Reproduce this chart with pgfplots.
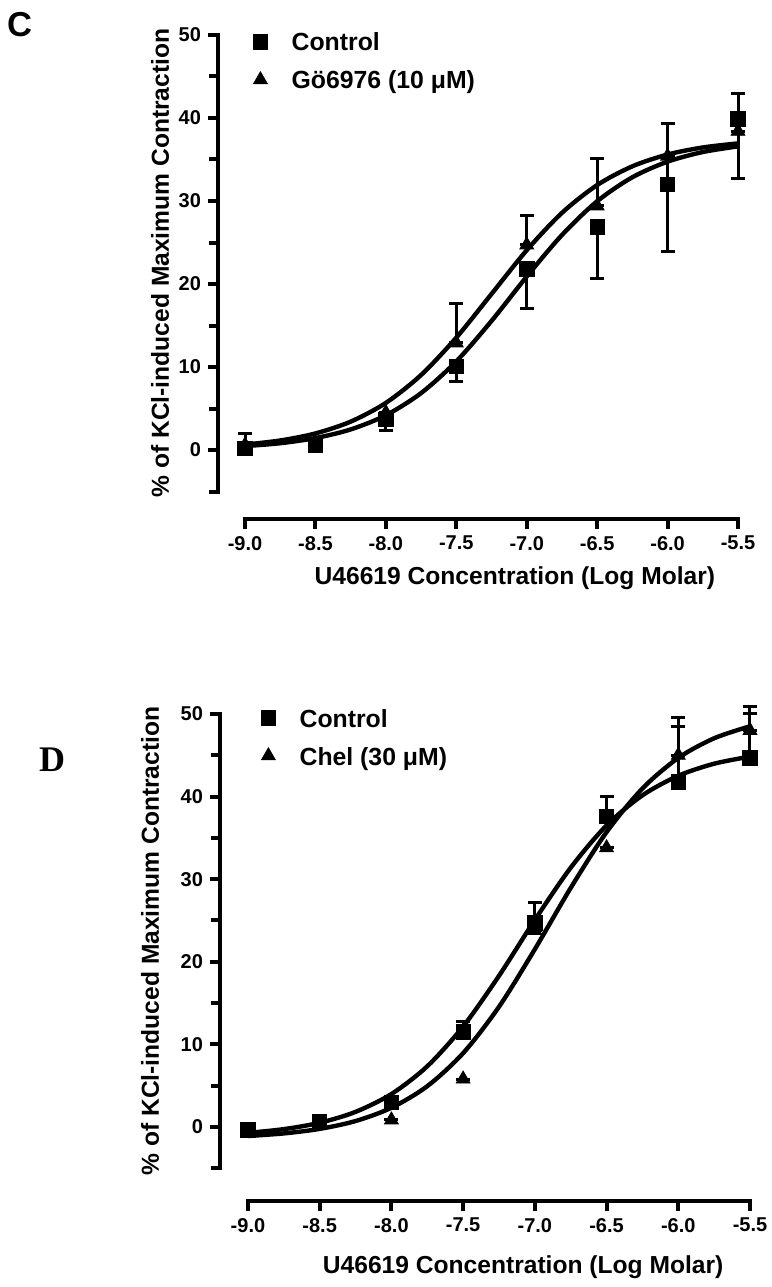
\documentclass[border=0pt]{standalone}
\usepackage{fontspec}
\setmainfont{Liberation Sans}
\newfontfamily\serifb{Liberation Serif}
\newfontfamily\sansb{Liberation Sans}
\usepackage{pgfplots}
\pgfplotsset{compat=1.18}
\usepackage{pgfplotstable}

% Panel C
\pgfplotstableread{
x y ep em
-9.0 0.2 0 0
-8.5 0.55 0 0
-8.0 3.7 0 1.4
-7.5 10.1 0 1.9
-7.0 21.8 0 4.7
-6.5 26.9 0 6.2
-6.0 32.0 7.3 8.1
-5.5 39.9 3.1 0
}\cctrl
\pgfplotstableread{
x y ep em
-9.0 0.6 1.4 0
-8.5 0.9 0 0
-8.0 4.5 0 0
-7.5 12.9 4.8 0
-7.0 24.7 3.6 0
-6.5 29.4 5.7 0
-6.0 35.4 0 0
-5.5 38.4 0 5.7
}\cgo
% Panel D
\pgfplotstableread{
x y ep em
-9.0 -0.35 0 0
-8.5 0.6 0 0
-8.0 3.0 0 0
-7.5 11.5 1.3 0
-7.0 24.7 2.5 0
-6.5 37.6 2.4 0
-6.0 41.8 6.7 0
-5.5 44.7 5.3 0
}\dctrl
\pgfplotstableread{
x y ep em
-9.0 -0.6 0 0
-8.5 0.3 0 0
-8.0 0.85 0 0
-7.5 5.8 0 0
-7.0 23.8 0 0
-6.5 33.8 0 0
-6.0 45.0 4.6 0
-5.5 48.0 2.9 0
}\dchel

\pgfplotsset{
  myax/.style={
    scale only axis, clip=false,
    axis x line*=bottom, axis y line*=left,
    axis line style={draw=none},
    xtick={-9,-8.5,-8,-7.5,-7,-6.5,-6,-5.5},
    xticklabels={-9.0,-8.5,-8.0,-7.5,-7.0,-6.5,-6.0,-5.5},
    ytick={0,10,20,30,40,50}, yticklabels={0,10,20,30,40,50},
    minor ytick={-5,5,15,25,35,45},
    tick align=outside,
    major tick length=5pt, minor tick length=4.5pt,
    every tick/.style={line width=2pt, black},
    every minor tick/.style={line width=2pt, black},
    tick label style={font=\bfseries\fontsize{10}{12}\selectfont, black},
    label style={font=\bfseries\fontsize{12.3}{14}\selectfont},
    xmax=-5.5, ymax=50,
    legend cell align=left,
    legend image code/.code={\draw[##1] plot[only marks] coordinates {(0pt,1.6pt)};},
    legend style={draw=none, fill=none, inner sep=0pt,
      font=\bfseries\fontsize{12.4}{14}\selectfont,
      nodes={text height=9pt, text depth=3pt, inner sep=0pt},
      row sep=7pt,
      /tikz/every odd column/.append style={column sep=12pt}},
  },
  sq/.style={only marks, mark=square*, mark size=3.6pt, black,
    error bars/.cd, y dir=both, y explicit,
    error bar style={line width=1.5pt, black},
    error mark options={rotate=90, mark size=3.5pt, line width=1.5pt, black}},
  tri/.style={only marks, mark=triangle*, mark size=4pt, black,
    error bars/.cd, y dir=both, y explicit,
    error bar style={line width=1.5pt, black},
    error mark options={rotate=90, mark size=3.5pt, line width=1.5pt, black}},
  fit/.style={black, line width=2.2pt, smooth, no marks, forget plot},
}

\begin{document}
\begin{tikzpicture}
\path[use as bounding box] (0,0) rectangle (386pt,643.5pt);

% ---------- Panel C ----------
\begin{axis}[myax,
  at={(109pt,384pt)}, anchor=south west,
  width=260pt, height=242pt,
  xmin=-9.192, ymin=-8.31,
  xlabel={U46619 Concentration (Log Molar)},
  ylabel={\% of KCl-induced Maximum Contraction},
  xlabel style={at={(axis description cs:0.571,-0.122)}, anchor=center},
  ylabel style={at={(axis description cs:-0.1115,0.529)}, anchor=center},
  legend style={at={(rel axis cs:0.067,1.005)}, anchor=north west},
]
\draw[line width=2pt, line cap=rect] (axis cs:-9,-8.31) -- (axis cs:-5.5,-8.31);
\draw[line width=2pt, line cap=rect] (axis cs:-9.192,-5) -- (axis cs:-9.192,50);
\addplot[sq] table[x=x, y=y, y error plus=ep, y error minus=em] {\cctrl};
\addplot[tri] table[x=x, y=y, y error plus=ep, y error minus=em] {\cgo};
\addplot[fit] coordinates {
(-9.0,0.47) (-8.75,0.82) (-8.5,1.44) (-8.25,2.48) (-8.0,4.19) (-7.75,6.86)
(-7.5,10.68) (-7.25,15.55) (-7.0,20.9) (-6.75,25.9) (-6.5,29.97) (-6.25,32.86)
(-6.0,34.74) (-5.75,35.9) (-5.5,36.58)};
\addplot[fit] coordinates {
(-9.0,0.66) (-8.75,1.15) (-8.5,2.0) (-8.25,3.42) (-8.0,5.68) (-7.75,9.04)
(-7.5,13.54) (-7.25,18.8) (-7.0,24.07) (-6.75,28.57) (-6.5,31.92) (-6.25,34.18)
(-6.0,35.6) (-5.75,36.45) (-5.5,36.94)};
\legend{Control, Gö6976 (10 μM)}
\end{axis}

% ---------- Panel D ----------
\begin{axis}[myax,
  at={(110pt,43pt)}, anchor=south west,
  width=265pt, height=243.5pt,
  xmin=-9.195, ymin=-8.96,
  xlabel={U46619 Concentration (Log Molar)},
  ylabel={\% of KCl-induced Maximum Contraction},
  xlabel style={at={(axis description cs:0.572,-0.136)}, anchor=center},
  ylabel style={at={(axis description cs:-0.132,0.534)}, anchor=center},
  legend style={at={(rel axis cs:0.077,1.011)}, anchor=north west},
]
\draw[line width=2pt, line cap=rect] (axis cs:-9,-8.96) -- (axis cs:-5.5,-8.96);
\draw[line width=2pt, line cap=rect] (axis cs:-9.195,-5) -- (axis cs:-9.195,50);
\addplot[sq] table[x=x, y=y, y error plus=ep, y error minus=em] {\dctrl};
\addplot[tri] table[x=x, y=y, y error plus=ep, y error minus=em] {\dchel};
\addplot[fit] coordinates {
(-9.0,-0.71) (-8.75,-0.26) (-8.5,0.51) (-8.25,1.83) (-8.0,3.99) (-7.75,7.35)
(-7.5,12.17) (-7.25,18.3) (-7.0,25.07) (-6.75,31.39) (-6.5,36.51) (-6.25,40.15)
(-6.0,42.52) (-5.75,43.98) (-5.5,44.84)};
\addplot[fit] coordinates {
(-9.0,-1.09) (-8.75,-0.78) (-8.5,-0.23) (-8.25,0.72) (-8.0,2.33) (-7.75,4.94)
(-7.5,8.94) (-7.25,14.55) (-7.0,21.52) (-6.75,28.94) (-6.5,35.7) (-6.25,40.98)
(-6.0,44.68) (-5.75,47.06) (-5.5,48.51)};
\legend{Control, Chel (30 μM)}
\end{axis}

\node[font=\sansb\bfseries\fontsize{17.3}{20}\selectfont] at (10pt,631pt) {C};
\node[font=\serifb\bfseries\fontsize{18}{20}\selectfont] at (26pt,263.5pt) {D};
\end{tikzpicture}
\end{document}
